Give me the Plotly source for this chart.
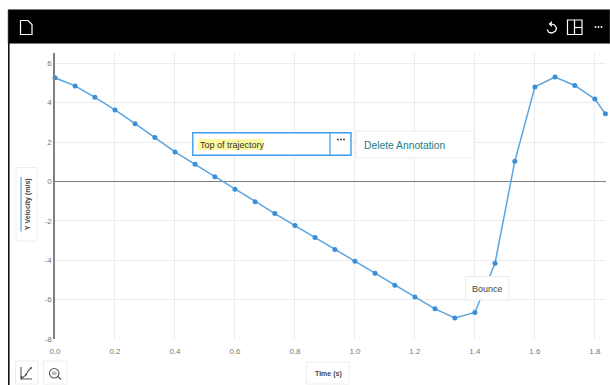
import plotly.graph_objects as go

time_s = [0.0, 0.067, 0.133, 0.2, 0.267, 0.333, 0.4, 0.467, 0.533, 0.6, 0.667, 0.733, 0.8, 0.867, 0.933,
          1.0, 1.067, 1.133, 1.2, 1.267, 1.333, 1.4, 1.467, 1.533, 1.6, 1.667, 1.733, 1.8, 1.835]
y_velocity = [5.26, 4.85, 4.27, 3.63, 2.93, 2.23, 1.5, 0.87, 0.24, -0.4, -1.03, -1.63, -2.24, -2.85, -3.45,
              -4.05, -4.66, -5.27, -5.87, -6.47, -6.93, -6.65, -4.15, 1.02, 4.8, 5.3, 4.87, 4.18, 3.43]
x_ticks = [0.0, 0.2, 0.4, 0.6, 0.8, 1.0, 1.2, 1.4, 1.6, 1.8]
y_ticks = [6, 4, 2, 0, -2, -4, -6, -8]
x_title = "Time (s)"
y_title = "Y Velocity (m/s)"
note_text = "Top of trajectory"
delete_text = "Delete Annotation"
bounce_text = "Bounce"

W, H = 610, 385
L, R, T, B = 55, 606, 53, 339
FONT = "Liberation Sans"


def px(x):
    return (x - L) / (R - L)


def py(y):
    return (B - y) / (B - T)


def rect(x0, y0, x1, y1, fill="rgba(0,0,0,0)", line=None, lw=1):
    return dict(type="rect", xref="paper", yref="paper", layer="above",
                x0=px(x0), x1=px(x1), y0=py(y0), y1=py(y1), fillcolor=fill,
                line=dict(color=line or "rgba(0,0,0,0)", width=lw if line else 0))


def path(points, color="#ffffff", lw=1.2, fill="rgba(0,0,0,0)"):
    d = "M " + " L ".join(f"{px(a):.5f},{py(b):.5f}" for a, b in points)
    return dict(type="path", xref="paper", yref="paper", layer="above", path=d,
                line=dict(color=color, width=lw), fillcolor=fill)


def circle(x0, y0, x1, y1, color="#555555", lw=1.1, fill="rgba(0,0,0,0)"):
    return dict(type="circle", xref="paper", yref="paper", layer="above",
                x0=px(x0), x1=px(x1), y0=py(y0), y1=py(y1),
                line=dict(color=color, width=lw), fillcolor=fill)


def dots(cx, cy, color):
    return [circle(cx + d - 0.9, cy - 0.9, cx + d + 0.9, cy + 0.9, color=color, lw=0, fill=color) for d in (-3, 0, 3)]


def text(x, y, s, size=9, color="#333333", bold=False, anchor="center", **kw):
    return dict(xref="paper", yref="paper", x=px(x), y=py(y), text=f"<b>{s}</b>" if bold else s,
                showarrow=False, xanchor=anchor, yanchor="middle",
                font=dict(family=FONT, size=size, color=color), **kw)


shapes = [
    rect(8, 9.5, 610, 43.5, fill="#000000", line="#777777", lw=0.6),
    rect(8, 43, 9.6, 385, fill="#111111"),
    path([(20.5, 20.5), (28, 20.5), (32, 24.5), (32, 34.5), (20.5, 34.5), (20.5, 20.5)]),
    path([(551.5, 24), (554.5, 25), (556.5, 28), (555.5, 31), (552, 33), (549, 32.5), (547, 29.5)], lw=1.3),
    path([(551.5, 21.5), (549, 24), (551.5, 26.5), (551.5, 21.5)], lw=0.6, fill="#ffffff"),
    rect(567.5, 20, 582, 34.5, line="#ffffff", lw=1.2),
    path([(574.5, 20), (574.5, 34.5)]),
    path([(574.5, 27.5), (582, 27.5)]),
    *dots(598.5, 27, "#ffffff"),
    rect(16, 167.5, 37, 241, fill="#ffffff", line="#eeeeee", lw=1),
    rect(20.3, 177, 21.7, 231.5, fill="#6fb0e6"),
    rect(306.5, 362, 349, 384, fill="#ffffff", line="#eeeeee", lw=1),
    rect(15.5, 361, 38, 384, fill="#ffffff", line="#eeeeee", lw=1),
    rect(43.5, 361, 67, 384, fill="#ffffff", line="#eeeeee", lw=1),
    path([(21, 367), (21, 379), (32, 379)], color="#555555", lw=1.1),
    path([(21, 379), (26, 375), (28, 371), (31, 368)], color="#555555", lw=1.1),
    circle(20.5, 376, 22.5, 378, lw=0, fill="#555555"),
    circle(25, 373.5, 27, 375.5, lw=0, fill="#555555"),
    circle(30, 367, 32, 369, lw=0, fill="#555555"),
    circle(49.5, 368.5, 59, 378),
    rect(52, 371.5, 56.5, 375, fill="#bbbbbb"),
    path([(58, 376.5), (61, 379.5)], color="#555555", lw=1.2),
    rect(192.8, 132.8, 351, 155.2, fill="#ffffff", line="#3f9bf0", lw=1.4),
    path([(330, 132.8), (330, 155.2)], color="#3f9bf0", lw=1.2),
    rect(198, 139, 263, 150, fill="#fbf8a0"),
    *dots(341, 139.5, "#333333"),
    rect(356, 131, 474, 158, fill="#ffffff", line="#ececec", lw=1),
    rect(465.5, 276.5, 509, 300, fill="#ffffff", line="#ececec", lw=1),
]

annotations = [
    text(28, 204, y_title, size=7, color="#444444", bold=True, textangle=-90),
    text(328, 373.5, x_title, size=7, color="#444444", bold=True),
    text(197.5, 144.5, note_text, size=9, color="#333333", anchor="left"),
    text(361.5, 145, delete_text, size=10.3, color="#23807f", anchor="left"),
    text(487, 288.5, bounce_text, size=9, color="#444444"),
]

fig = go.Figure(go.Scatter(
    x=time_s, y=y_velocity, mode="lines+markers", cliponaxis=False,
    line=dict(color="#5aa5e0", width=1.5),
    marker=dict(color="#3a8fd8", size=5),
    hoverinfo="skip",
))

fig.update_layout(
    width=W, height=H, showlegend=False,
    paper_bgcolor="#ffffff", plot_bgcolor="#ffffff",
    margin=dict(l=L, r=W - R, t=T, b=H - B, autoexpand=False),
    font=dict(family=FONT, size=8, color="#777777"),
    shapes=shapes, annotations=annotations,
    xaxis=dict(range=[0, 1.837], tickvals=x_ticks, ticktext=[f"{v:.1f}" for v in x_ticks],
               showgrid=True, gridcolor="#ececec", gridwidth=1,
               zeroline=False, showline=False, ticks="outside", ticklen=4, tickcolor="rgba(0,0,0,0)"),
    yaxis=dict(range=[-8, 6.52], tickvals=y_ticks,
               ticktext=[str(v) for v in y_ticks],
               showgrid=True, gridcolor="#ececec", gridwidth=1,
               zeroline=True, zerolinecolor="#808080", zerolinewidth=1.3,
               showline=True, linecolor="#808080", linewidth=1.5,
               ticks=""),
)

fig.write_html("out.html", config=dict(displayModeBar=False),
               post_script="document.body.style.margin='0';document.body.style.overflow='hidden';")
